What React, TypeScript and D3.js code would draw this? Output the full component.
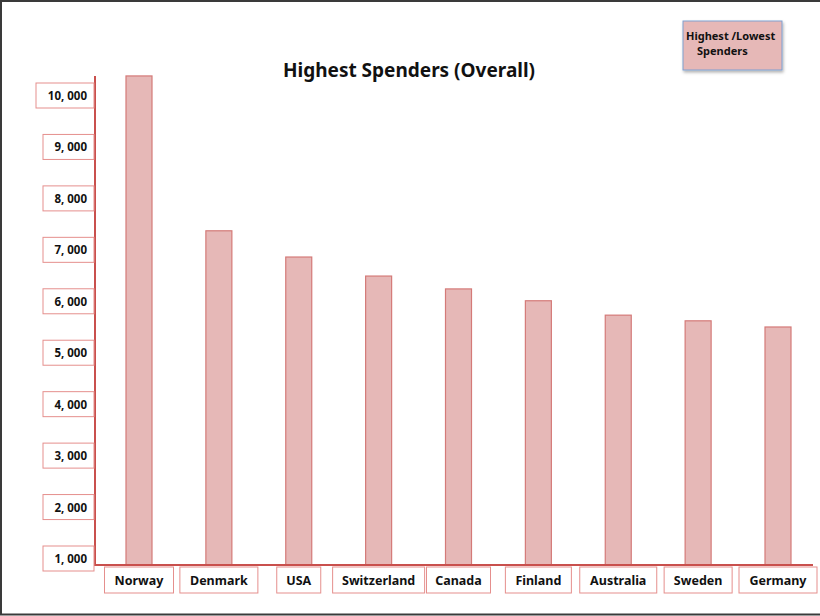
import React from "react";
import * as d3 from "d3";

const countries = ["Norway", "Denmark", "USA", "Switzerland", "Canada", "Finland", "Australia", "Sweden", "Germany"];
const spending = [10390, 7380, 6870, 6500, 6250, 6020, 5740, 5630, 5510];
const yTicks = [1000, 2000, 3000, 4000, 5000, 6000, 7000, 8000, 9000, 10000];
const xBoxWidths = [69, 78, 44, 92, 64, 66, 77, 68, 78];

const W = 820;
const H = 616;
const axisX = 95;
const baseY = 565;
const axisTop = 76;
const axisRight = 813;
const font = "'Noto Sans', 'Open Sans', sans-serif";

export default function App() {
  const y = d3.scaleLinear().domain([1000, 10000]).range([559, 96]);
  const x = d3.scalePoint<string>().domain(countries).range([139, 778]);
  const barW = 26;
  const fmt = (v: number) => d3.format(",")(v).replace(",", ", ");

  return (
    <div style={{ position: "fixed", left: 0, top: 0, width: W, height: H, background: "#fff" }}>
      <svg width={W} height={H} style={{ display: "block" }}>
        <defs>
          <filter id="sh" x="-20%" y="-20%" width="140%" height="150%">
            <feDropShadow dx="1" dy="2" stdDeviation="1.5" floodColor="#000" floodOpacity="0.3" />
          </filter>
        </defs>
        <rect x={0} y={0} width={W} height={H} fill="#fff" />
        {/* frame */}
        <line x1={1} y1={0} x2={1} y2={615} stroke="#3a3a3a" strokeWidth={2} />
        <line x1={0} y1={1} x2={W} y2={1} stroke="#3a3a3a" strokeWidth={2} />
        <line x1={0} y1={614.5} x2={W} y2={614.5} stroke="#3a3a3a" strokeWidth={2} />

        {/* title */}
        <text x={409} y={77} textAnchor="middle" fontFamily={font} fontWeight="bold" fontSize={19} fill="#111">
          Highest Spenders (Overall)
        </text>

        {/* legend box */}
        <rect x={683} y={21} width={99} height={49} fill="#e6b8b7" stroke="#7f9fd0" strokeWidth={1} filter="url(#sh)" />
        <text x={686} y={40} fontFamily={font} fontWeight="bold" fontSize={11} fill="#111">Highest /Lowest</text>
        <text x={697} y={55} fontFamily={font} fontWeight="bold" fontSize={11} fill="#111">Spenders</text>

        {/* bars */}
        {countries.map((c, i) => (
          <rect
            key={c}
            x={(x(c) as number) - barW / 2}
            y={y(spending[i])}
            width={barW}
            height={baseY - y(spending[i])}
            fill="#e6b8b7"
            stroke="#d47a78"
            strokeWidth={1.2}
          />
        ))}

        {/* axes */}
        <line x1={axisX} y1={axisTop} x2={axisX} y2={baseY + 1} stroke="#c9504d" strokeWidth={2} />
        <line x1={axisX} y1={baseY} x2={axisRight} y2={baseY} stroke="#c9504d" strokeWidth={2} />

        {/* y tick label boxes */}
        {yTicks.map((t) => {
          const bw = t >= 10000 ? 58 : 51;
          const cy = y(t);
          return (
            <g key={t}>
              <rect x={axisX - bw - 1} y={cy - 13} width={bw} height={25} fill="#fff" stroke="#e58f8d" strokeWidth={1} />
              <text x={axisX - 8} y={cy + 4} textAnchor="end" fontFamily={font} fontWeight="bold" fontSize={11.5} fill="#111">
                {fmt(t)}
              </text>
            </g>
          );
        })}

        {/* x labels boxes */}
        {countries.map((c, i) => {
          const cx = x(c) as number;
          const bw = xBoxWidths[i];
          return (
            <g key={c}>
              <rect x={cx - bw / 2} y={567} width={bw} height={26} fill="#fff" stroke="#e58f8d" strokeWidth={1} />
              <text x={cx} y={585} textAnchor="middle" fontFamily={font} fontWeight="bold" fontSize={12.5} fill="#111">
                {c}
              </text>
            </g>
          );
        })}
      </svg>
    </div>
  );
}
